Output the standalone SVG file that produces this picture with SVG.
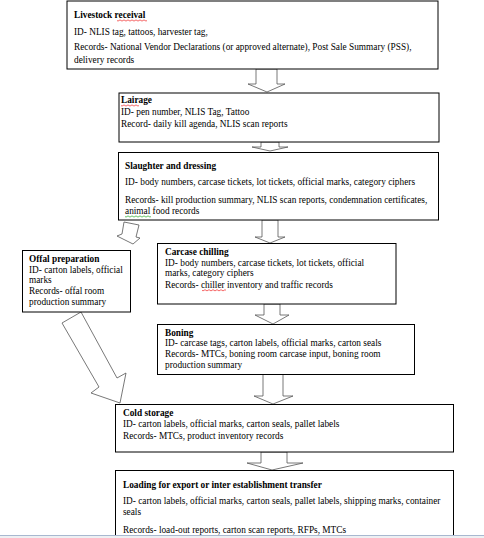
<svg xmlns="http://www.w3.org/2000/svg" width="484" height="538" viewBox="0 0 484 538">
<style>
.box{fill:#fff;stroke:#000;stroke-width:1}
.arr{fill:#fff;stroke:#555;stroke-width:0.8;stroke-linejoin:miter}
text{font-family:"Liberation Serif","Times New Roman",serif;font-size:9.3px;fill:#000}
.t{font-weight:bold}
.sq{fill:none;stroke:#e00;stroke-width:0.6}
.sqg{fill:none;stroke:#090;stroke-width:0.6}
</style>
<rect width="484" height="538" fill="#fff"/>
<g id="connectors">
<polygon class="arr" points="256,69 277,69 277,84 285,84 267,92 248,84 256,84"/>
<polygon class="arr" points="261,142 279,142 279,147 288,147 270,151 252,147 261,147"/>
<polygon class="arr" points="262,220 278,220 278,237 285,237 270,243 255,237 262,237"/>
<polygon class="arr" points="264,304 280,304 280,315 289,315 273,324 255,315 264,315"/>
<polygon class="arr" points="263,374 283,374 283,396 293,396 273,404 254,396 263,396"/>
<polygon class="arr" points="261,452 287,452 287,463 303,463 272,470 247,463 261,463"/>
<polygon class="arr" points="124,222 139,225 136,237 140,238 133,244 117,236 122,234"/>
<polygon class="arr" points="62,323 81,312 117,378 126,373 120,403 91,393 99,387"/>
</g>
<g id="livestock">
<rect class="box" x="67" y="1" width="371" height="68"/>
<text class="t" x="74" y="18">Livestock receival</text>
<path class="sq" d="M117,20.5 q1,1.2 2,0 t2,0 t2,0 t2,0 t2,0 t2,0 t2,0 t2,0 t2,0 t2,0 t2,0 t2,0 t2,0 t2,0 t2,0"/>
<text x="74" y="34.5">ID- NLIS tag, tattoos, harvester tag,</text>
<text x="74" y="49.5">Records- National Vendor Declarations (or approved alternate), Post Sale Summary (PSS),</text>
<text x="74" y="62.8">delivery records</text>
</g>
<g id="lairage">
<rect class="box" x="119" y="93" width="320" height="49"/>
<text class="t" x="121" y="103">Lairage</text>
<path class="sq" d="M121,105.5 q1,1.2 2,0 t2,0 t2,0 t2,0 t2,0 t2,0 t2,0 t2,0 t2,0"/>
<text x="121" y="115">ID- pen number, NLIS Tag, Tattoo</text>
<text x="121" y="126.5">Record- daily kill agenda, NLIS scan reports</text>
</g>
<g id="slaughter">
<rect class="box" x="118.5" y="152.5" width="320" height="67.5"/>
<text class="t" x="125" y="168.8">Slaughter and dressing</text>
<text x="125" y="185.4">ID- body numbers, carcase tickets, lot tickets, official marks, category ciphers</text>
<text x="125" y="202.8">Records- kill production summary, NLIS scan reports, condemnation certificates,</text>
<text x="125" y="213.8">animal food records</text>
<path class="sqg" d="M125,216.5 q1,1.2 2,0 t2,0 t2,0 t2,0 t2,0 t2,0 t2,0 t2,0 t2,0 t2,0 t2,0 t2,0 t2,0"/>
</g>
<g id="offal">
<rect class="box" x="22.5" y="250.5" width="108" height="61.5"/>
<text class="t" x="29" y="261.8">Offal preparation</text>
<text x="29" y="272.8">ID- carton labels, official</text>
<text x="29" y="283.4">marks</text>
<text x="29" y="294.4">Records- offal room</text>
<text x="29" y="305.4">production summary</text>
</g>
<g id="chilling">
<rect class="box" x="157.5" y="243.5" width="238.5" height="60.5"/>
<text class="t" x="165" y="255.1">Carcase chilling</text>
<text x="165" y="266.1">ID- body numbers, carcase tickets, lot tickets, official</text>
<text x="165" y="276.1">marks, category ciphers</text>
<text x="165" y="287.8">Records- chiller inventory and traffic records</text>
<path class="sq" d="M202,290.3 q1,1.2 2,0 t2,0 t2,0 t2,0 t2,0 t2,0 t2,0 t2,0 t2,0 t2,0 t2,0 t2,0"/>
</g>
<g id="boning">
<rect class="box" x="157.5" y="324.5" width="257" height="50"/>
<text class="t" x="165" y="336.1">Boning</text>
<text x="165" y="346.1">ID- carcase tags, carton labels, official marks, carton seals</text>
<text x="165" y="357.1">Records- MTCs, boning room carcase input, boning room</text>
<text x="165" y="367.8">production summary</text>
</g>
<g id="cold">
<rect class="box" x="115.5" y="404.5" width="338" height="47.5"/>
<text class="t" x="123" y="416.1">Cold storage</text>
<text x="123" y="427.1">ID- carton labels, official marks, carton seals, pallet labels</text>
<text x="123" y="438.8">Records- MTCs, product inventory records</text>
</g>
<g id="loading">
<rect class="box" x="115.5" y="470.5" width="338" height="80"/>
<text class="t" x="123" y="487.8">Loading for export or inter establishment transfer</text>
<text x="123" y="504.4">ID- carton labels, official marks, carton seals, pallet labels, shipping marks, container</text>
<text x="123" y="515.4">seals</text>
<text x="123" y="532.8">Records- load-out reports, carton scan reports, RFPs, MTCs</text>
</g>
<rect x="0" y="535" width="484" height="3" fill="#eef0f3"/>
<line x1="0" y1="535.5" x2="484" y2="535.5" stroke="#a8b8d0" stroke-width="1"/>
</svg>
